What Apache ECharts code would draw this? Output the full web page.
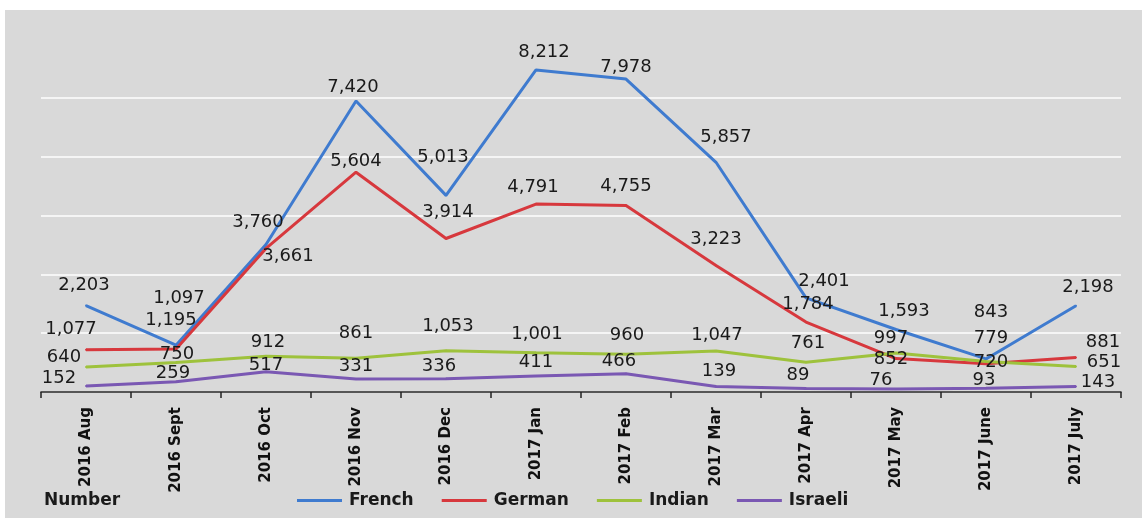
<!DOCTYPE html>
<html>
<head>
<meta charset="utf-8">
<script src="https://cdn.jsdelivr.net/npm/echarts@6/dist/echarts.min.js"></script>
<style>
  html, body { margin: 0; padding: 0; background: #fff; }
  #chart { width: 1142px; height: 518px; }
</style>
</head>
<body>
<div id="chart"></div>
<script>
// 月份
const months = ['2016 Aug', '2016 Sept', '2016 Oct', '2016 Nov', '2016 Dec', '2017 Jan',
  '2017 Feb', '2017 Mar', '2017 Apr', '2017 May', '2017 June', '2017 July'];

const french = [2203, 1195, 3760, 7420, 5013, 8212, 7978, 5857, 2401, 1593, 843, 2198];
const german = [1077, 1097, 3661, 5604, 3914, 4791, 4755, 3223, 1784, 852, 720, 881];
const indian = [640, 750, 912, 861, 1053, 1001, 960, 1047, 761, 997, 779, 651];
const israeli = [152, 259, 517, 331, 336, 411, 466, 139, 89, 76, 93, 143];

// 数据标签的位置微调 [dx, dy]
const frenchShift = [[-2,-20],[-5,-25],[-8,-22],[-3,-14],[-3,-38],[8,-18],[0,-12],[10,-25],[18,-16],[8,-18],[5,-47],[12,-18]];
const germanShift = [[-15,-20],[3,-51],[22,8],[0,-11],[2,-26],[-3,-17],[0,-19],[0,-26],[2,-18],[-5,1],[5,-1],[27,-15]];
const indianShift = [[-22,-10],[1,-8],[2,-14],[0,-25],[2,-24],[1,-18],[1,-19],[1,-16],[2,-19],[-5,-15],[5,-23],[28,-4]];
const israeliShift = [[-27,-8],[-3,-9],[0,-6],[0,-13],[-7,-12],[0,-14],[-7,-12],[3,-15],[-8,-13],[-15,-9],[-2,-8],[22,-4]];

function makeSeries(name, values, shifts, color) {
  return {
    name: name,
    type: 'line',
    symbol: 'circle',
    symbolSize: 2,
    lineStyle: { color: color, width: 3 },
    itemStyle: { color: color },
    data: values.map(function (v, i) {
      return { value: v, label: { offset: shifts[i] } };
    }),
    label: {
      show: true,
      position: 'inside',
      color: '#1a1a1a',
      fontFamily: 'DejaVu Sans',
      fontSize: 18,
      formatter: function (p) { return p.value.toLocaleString('en-US'); }
    },
    emphasis: { disabled: true },
    animation: false
  };
}

const chart = echarts.init(document.getElementById('chart'));
chart.setOption({
  backgroundColor: '#fff',
  animation: false,
  graphic: [
    { type: 'rect', z: -10, shape: { x: 5, y: 10, width: 1137, height: 508 }, style: { fill: '#d9d9d9' } },
    { type: 'text', left: 44, top: 492, style: { text: 'Number', fontFamily: 'DejaVu Sans', fontWeight: 'bold', fontSize: 17, fill: '#1a1a1a' } }
  ],
  grid: { left: 41, right: 21, top: 39, bottom: 126 },
  legend: {
    left: 292,
    top: 487,
    icon: 'rect',
    itemWidth: 45,
    itemHeight: 3,
    itemGap: 28,
    textStyle: { fontFamily: 'DejaVu Sans', fontWeight: 'bold', fontSize: 17, color: '#1a1a1a', padding: [0, 0, 0, 2] },
    data: ['French', 'German', 'Indian', 'Israeli']
  },
  xAxis: {
    type: 'category',
    data: months,
    boundaryGap: true,
    axisLine: { lineStyle: { color: '#222', width: 1.5 } },
    axisTick: { show: true, length: 6, lineStyle: { color: '#222', width: 1.5 } },
    axisLabel: {
      rotate: 90,
      margin: 15,
      interval: 0,
      fontFamily: 'DejaVu Sans',
      fontWeight: 'bold',
      fontSize: 15,
      color: '#111'
    }
  },
  yAxis: {
    type: 'value',
    min: 0,
    max: 9000,
    interval: 1500,
    axisLabel: { show: false },
    axisLine: { show: false },
    axisTick: { show: false },
    splitLine: { show: true, showMaxLine: false, lineStyle: { color: '#f5f5f5', width: 2 } }
  },
  series: [
    makeSeries('French', french, frenchShift, '#3f7bcf'),
    makeSeries('German', german, germanShift, '#d7383d'),
    makeSeries('Indian', indian, indianShift, '#9ec23c'),
    makeSeries('Israeli', israeli, israeliShift, '#7a58b3')
  ]
});
</script>
</body>
</html>
